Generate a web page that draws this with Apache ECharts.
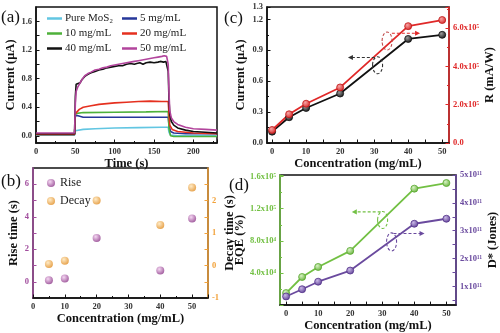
<!DOCTYPE html>
<html>
<head>
<meta charset="utf-8">
<script src="https://cdn.jsdelivr.net/npm/echarts@6/dist/echarts.min.js"></script>
<style>
  html, body { margin: 0; padding: 0; background: #fff; }
  #chart { width: 500px; height: 333px; }
</style>
</head>
<body>
<div id="chart"></div>
<script>
// ---------- (a) photocurrent switching curves: [time (s), current (uA)] ----------
const curvePure = [[0,0.01],[49,0.01],[50,0.07],[52,0.08],[60,0.09],[75,0.10],[100,0.11],[130,0.115],[160,0.12],[168,0.12],[169,0.05],[171,0.01],[180,0.0],[230,0.0]];
const curve5 = [[0,0.02],[49,0.02],[50,0.29],[52,0.27],[60,0.26],[100,0.26],[140,0.26],[168,0.26],[169,0.15],[171,0.06],[175,0.04],[190,0.03],[230,0.03]];
const curve10 = [[0,0.02],[49,0.02],[50,0.31],[52,0.32],[60,0.325],[100,0.33],[140,0.335],[168,0.34],[169,0.1],[171,0.0],[175,-0.01],[200,-0.01],[230,-0.01]];
const curve20 = [[0,0.02],[49,0.02],[50,0.31],[52,0.33],[55,0.37],[60,0.40],[70,0.42],[80,0.44],[90,0.45],[100,0.46],[115,0.47],[130,0.48],[145,0.485],[160,0.48],[168,0.48],[169,0.3],[170,0.15],[173,0.09],[180,0.06],[200,0.04],[230,0.03]];
const curve40 = [[0,0.03],[49,0.03],[50,0.55],[51,0.72],[53,0.73],[56,0.74],[58,0.78],[62,0.83],[66,0.86],[70,0.88],[75,0.90],[80,0.92],[85,0.93],[90,0.95],[95,0.96],[100,0.97],[105,0.98],[110,0.98],[115,1.0],[120,1.01],[125,1.0],[128,1.01],[132,1.02],[136,1.0],[140,1.02],[145,1.03],[150,1.02],[155,1.03],[158,1.04],[162,1.03],[165,1.04],[167,1.04],[168,0.9],[169,0.5],[170,0.3],[172,0.2],[175,0.15],[180,0.11],[190,0.08],[200,0.06],[215,0.05],[230,0.04]];
const curve50 = [[0,0.04],[49,0.04],[50,0.45],[51,0.62],[53,0.68],[55,0.72],[58,0.78],[62,0.84],[66,0.87],[70,0.89],[75,0.92],[80,0.93],[85,0.95],[90,0.96],[95,0.98],[100,0.99],[105,1.0],[110,1.01],[115,1.02],[120,1.03],[125,1.04],[130,1.05],[135,1.06],[140,1.07],[145,1.08],[150,1.09],[155,1.10],[160,1.11],[163,1.12],[166,1.11],[168,1.0],[169,0.6],[170,0.35],[172,0.25],[175,0.2],[180,0.16],[190,0.12],[200,0.10],[215,0.09],[230,0.08]];

// ---------- (b) response times ----------
const concTimes = [5, 10, 20, 40, 50];
const riseTime = [0.1, 0.2, 2.7, 0.7, 3.9];
const decayTime = [0.05, 0.15, 2.0, 1.25, 2.4];

// ---------- (c) and (d) figures of merit vs concentration ----------
const conc = [0, 5, 10, 20, 40, 50];
const photoCurrent = [0.11, 0.25, 0.34, 0.48, 1.01, 1.05];
const responsivity = [0.68e5, 1.5e5, 2.05e5, 2.9e5, 6.1e5, 6.42e5];
const eqe = [1.5e4, 3.5e4, 4.75e4, 6.75e4, 1.45e5, 1.52e5];
const detectivity = [0.64e11, 0.9e11, 1.17e11, 1.57e11, 3.25e11, 3.43e11];

// tick values
const ticksA_y = [0, 0.4, 0.8, 1.2, 1.6];
const ticksB_left = [0, 2, 4, 6];
const ticksB_right = [-1, 0, 1, 2];
const ticksConc = [0, 10, 20, 30, 40, 50];
const ticksD_right = [1e11, 2e11, 3e11, 4e11, 5e11];

const FONT = '"Liberation Serif", "Times New Roman", serif';
const C = {
  cyan: '#62c6e2', blue: '#26379a', green: '#4eb13a', red: '#e5301f',
  black: '#111111', magenta: '#b2449c',
  rise: '#a24e9e', decay: '#f2a23a',
  resp: '#e02828', eqe: '#72c043', det: '#6a4a9e'
};

const zip = (xs, ys) => xs.map((x, i) => [x, ys[i]]);
const sup = { '0':'⁰','1':'¹','2':'²','3':'³','4':'⁴','5':'⁵','6':'⁶','7':'⁷','8':'⁸','9':'⁹' };
const sci = (m, e, digits) => (digits == null ? String(m) : m.toFixed(digits)) + 'x10' + String(e).split('').map(d => sup[d]).join('');

function ball(light, dark) {
  return { type: 'radial', x: 0.38, y: 0.35, r: 0.7,
    colorStops: [{ offset: 0, color: light }, { offset: 1, color: dark }] };
}

function axisBase(color) {
  return {
    type: 'value',
    splitLine: { show: false },
    axisLine: { show: true, onZero: false, lineStyle: { color: color, width: 1.5 } },
    axisTick: { show: true, inside: true, length: 3.5, lineStyle: { color: color, width: 1 } },
    minorTick: { show: false },
    axisLabel: { color: color === '#111' ? '#333' : color, fontSize: 8.5, fontFamily: FONT, fontWeight: 'bold', margin: 4 },
    nameLocation: 'middle',
    nameTextStyle: { color: '#111', fontSize: 12.5, fontWeight: 'bold', fontFamily: FONT }
  };
}
function merge(base, patch) {
  for (const k in patch) {
    if (patch[k] && typeof patch[k] === 'object' && !Array.isArray(patch[k]) && base[k] && typeof base[k] === 'object') {
      base[k] = merge(Object.assign({}, base[k]), patch[k]);
    } else base[k] = patch[k];
  }
  return base;
}
function ax(color, extra) { return merge(axisBase(color), extra); }

const chart = echarts.init(document.getElementById('chart'), null, { renderer: 'canvas' });

const option = {
  animation: false,
  backgroundColor: '#fff',
  textStyle: { fontFamily: FONT },
  grid: [
    { left: 36, top: 7, width: 181, height: 136, show: true, borderColor: '#111', borderWidth: 1.5 },
    { left: 33, top: 168, width: 175, height: 130, show: true, borderColor: '#111', borderWidth: 1.5 },
    { left: 267, top: 7, width: 182, height: 136, show: true, borderColor: '#111', borderWidth: 1.5 },
    { left: 280, top: 175, width: 177, height: 131, show: true, borderColor: '#111', borderWidth: 1.5 }
  ],
  xAxis: [
    ax('#111', { gridIndex: 0, min: 0, max: 230, interval: 50, name: 'Time (s)', nameGap: 13,
      axisLabel: { showMaxLabel: false },
      minorTick: { show: true, splitNumber: 2, length: 2, lineStyle: { color: '#111' } } }),
    ax('#111', { gridIndex: 1, min: 0, max: 55, interval: 10, name: 'Concentration (mg/mL)', nameGap: 14,
      axisLabel: { showMaxLabel: false },
      minorTick: { show: true, splitNumber: 2, length: 2, lineStyle: { color: '#111' } } }),
    ax('#111', { gridIndex: 2, min: -1.5, max: 52, name: 'Concentration (mg/mL)', nameGap: 12,
      axisLabel: { customValues: ticksConc }, axisTick: { customValues: [0,5,10,15,20,25,30,35,40,45,50] } }),
    ax('#111', { gridIndex: 3, min: -1.9, max: 53, name: 'Concentration (mg/mL)', nameGap: 11,
      axisLabel: { customValues: ticksConc }, axisTick: { customValues: [0,5,10,15,20,25,30,35,40,45,50] } })
  ],
  yAxis: [
    ax('#111', { gridIndex: 0, min: -0.1, max: 1.8, name: 'Current (μA)', nameGap: 16,
      axisLabel: { customValues: ticksA_y, formatter: v => v.toFixed(1) },
      axisTick: { customValues: [0,0.2,0.4,0.6,0.8,1.0,1.2,1.4,1.6] } }),
    ax(C.rise, { gridIndex: 1, min: -1, max: 7, name: 'Rise time (s)', nameGap: 13,
      axisLabel: { customValues: ticksB_left }, axisTick: { customValues: [0,1,2,3,4,5,6] } }),
    ax(C.decay, { gridIndex: 1, min: -1, max: 3, position: 'right', name: 'Decay time (s)', nameGap: 9,
      axisLabel: { customValues: ticksB_right }, axisTick: { customValues: [-0.5,0,0.5,1,1.5,2,2.5] } }),
    ax('#111', { gridIndex: 2, min: 0, max: 1.32, interval: 0.3, name: 'Current (μA)', nameGap: 20,
      axisLabel: { formatter: v => v.toFixed(1) },
      minorTick: { show: true, splitNumber: 2, length: 2, lineStyle: { color: '#111' } } }),
    ax(C.resp, { gridIndex: 2, min: 0, max: 7.1e5, interval: 2e5, position: 'right', name: 'R (mA/W)', nameGap: 34,
      axisLabel: { showMaxLabel: false, formatter: v => v === 0 ? '0.0' : sci(v / 1e5, 5, 1) },
      minorTick: { show: true, splitNumber: 2, length: 2, lineStyle: { color: C.resp } } }),
    ax(C.eqe, { gridIndex: 3, min: 0, max: 1.62e5, interval: 4e4, name: 'EQE (%)', nameGap: 31,
      axisLabel: { formatter: v => v === 0 ? '' : (v >= 1e5 ? sci(v / 1e5, 5, 1) : sci(v / 1e4, 4, 1)) },
      minorTick: { show: true, splitNumber: 2, length: 2, lineStyle: { color: C.eqe } } }),
    ax(C.det, { gridIndex: 3, min: 0.33e11, max: 5e11, position: 'right', name: 'D* (Jones)', nameGap: 30,
      axisLabel: { customValues: ticksD_right, formatter: v => sci(Math.round(v / 1e11), 11) },
      axisTick: { customValues: [0.5e11,1e11,1.5e11,2e11,2.5e11,3e11,3.5e11,4e11,4.5e11,5e11] } })
  ],
  legend: [
    { data: ['Pure MoS₂', '10 mg/mL', '40 mg/mL'], orient: 'vertical', left: 42, top: 8,
      icon: 'rect', itemWidth: 15, itemHeight: 2.5, itemGap: 4,
      textStyle: { fontSize: 11, fontFamily: FONT, color: '#222', padding: [0, 0, 0, -2] } },
    { data: ['5 mg/mL', '20 mg/mL', '50 mg/mL'], orient: 'vertical', left: 117, top: 8,
      icon: 'rect', itemWidth: 15, itemHeight: 2.5, itemGap: 4,
      textStyle: { fontSize: 11, fontFamily: FONT, color: '#222', padding: [0, 0, 0, -2] } },
    { data: ['Rise', 'Decay'], orient: 'vertical', left: 42, top: 172,
      icon: 'circle', itemWidth: 8, itemHeight: 8, itemGap: 6,
      textStyle: { fontSize: 12, fontFamily: FONT, color: '#222' } }
  ],
  series: [
    { name: 'Pure MoS₂', type: 'line', xAxisIndex: 0, yAxisIndex: 0, data: curvePure, showSymbol: false, lineStyle: { width: 1.6 }, color: C.cyan },
    { name: '5 mg/mL', type: 'line', xAxisIndex: 0, yAxisIndex: 0, data: curve5, showSymbol: false, lineStyle: { width: 1.6 }, color: C.blue },
    { name: '10 mg/mL', type: 'line', xAxisIndex: 0, yAxisIndex: 0, data: curve10, showSymbol: false, lineStyle: { width: 1.6 }, color: C.green },
    { name: '20 mg/mL', type: 'line', xAxisIndex: 0, yAxisIndex: 0, data: curve20, showSymbol: false, lineStyle: { width: 1.6 }, color: C.red },
    { name: '40 mg/mL', type: 'line', xAxisIndex: 0, yAxisIndex: 0, data: curve40, showSymbol: false, lineStyle: { width: 1.6 }, color: C.black },
    { name: '50 mg/mL', type: 'line', xAxisIndex: 0, yAxisIndex: 0, data: curve50, showSymbol: false, lineStyle: { width: 1.6 }, color: C.magenta },

    { name: 'Rise', type: 'scatter', xAxisIndex: 1, yAxisIndex: 1, data: zip(concTimes, riseTime),
      symbolSize: 8, itemStyle: { color: ball('#f2cdef', '#8a3486') } },
    { name: 'Decay', type: 'scatter', xAxisIndex: 1, yAxisIndex: 2, data: zip(concTimes, decayTime),
      symbolSize: 8, itemStyle: { color: ball('#ffe6b8', '#e08a1e') } },

    { name: 'Current', type: 'line', xAxisIndex: 2, yAxisIndex: 3, data: zip(conc, photoCurrent),
      symbol: 'circle', symbolSize: 7, lineStyle: { color: '#111', width: 1.8 },
      itemStyle: { color: ball('#9a9a9a', '#111'), borderColor: '#111', borderWidth: 0.8 } },
    { name: 'R', type: 'line', xAxisIndex: 2, yAxisIndex: 4, data: zip(conc, responsivity),
      symbol: 'circle', symbolSize: 7, lineStyle: { color: C.resp, width: 1.8 },
      itemStyle: { color: ball('#f7a5a5', '#d42020'), borderColor: '#c01818', borderWidth: 0.8 } },

    { name: 'EQE', type: 'line', xAxisIndex: 3, yAxisIndex: 5, data: zip(conc, eqe),
      symbol: 'circle', symbolSize: 7, lineStyle: { color: C.eqe, width: 1.8 },
      itemStyle: { color: ball('#d8f2c4', '#62b036'), borderColor: '#5aa832', borderWidth: 0.8 } },
    { name: 'D*', type: 'line', xAxisIndex: 3, yAxisIndex: 6, data: zip(conc, detectivity),
      symbol: 'circle', symbolSize: 7, lineStyle: { color: C.det, width: 1.8 },
      itemStyle: { color: ball('#c9b8e6', '#5c3c94'), borderColor: '#54348a', borderWidth: 0.8 } }
  ]
};

chart.setOption(option);

// ---------- panel letters and dashed "which axis" guides ----------
const P = (xi, yi, pt) => chart.convertToPixel({ xAxisIndex: xi, yAxisIndex: yi }, pt);

function dashedArrow(p0, p1, color) {
  const dir = Math.sign(p1[0] - p0[0]);
  const tip = p1, h = 5, w = 2.6;
  return [
    { type: 'line', shape: { x1: p0[0], y1: p0[1], x2: p1[0] - dir * h * 0.6, y2: p1[1] },
      style: { stroke: color, lineWidth: 1.2, lineDash: [3, 2] }, z: 20 },
    { type: 'polygon', shape: { points: [[tip[0], tip[1]], [tip[0] - dir * h, tip[1] - w], [tip[0] - dir * h, tip[1] + w]] },
      style: { fill: color }, z: 20 }
  ];
}
function dashedEllipse(c, rx, ry, color) {
  return { type: 'ellipse', shape: { cx: c[0], cy: c[1], rx, ry },
    style: { fill: 'none', stroke: color, lineWidth: 1.1, lineDash: [3, 2] }, z: 20 };
}

const label = (text, x, y) => ({ type: 'text', left: x, top: y, z: 30,
  style: { text, font: '17px ' + FONT, fill: '#111' } });

const graphics = [
  label('(a)', 1, 9), label('(b)', 1, 173), label('(c)', 224, 10), label('(d)', 229, 177),
  dashedEllipse(P(2, 3, [31, 0.755]), 5, 8.5, '#333'),
  ...dashedArrow(P(2, 3, [30.2, 0.83]), P(2, 3, [22.3, 0.83]), '#333'),
  dashedEllipse(P(2, 3, [33.8, 0.99]), 5, 9, '#c04a4a'),
  ...dashedArrow(P(2, 3, [35.2, 1.065]), P(2, 3, [43.5, 1.065]), C.resp),
  dashedEllipse(P(3, 5, [30.1, 1.06e5]), 5, 8.5, C.eqe),
  ...dashedArrow(P(3, 5, [29.5, 1.16e5]), P(3, 5, [20.5, 1.16e5]), C.eqe),
  dashedEllipse(P(3, 6, [32.9, 2.6e11]), 5, 9, C.det),
  ...dashedArrow(P(3, 6, [33.5, 2.9e11]), P(3, 6, [43.2, 2.9e11]), C.det)
];
chart.setOption({ graphic: graphics });
</script>
</body>
</html>
